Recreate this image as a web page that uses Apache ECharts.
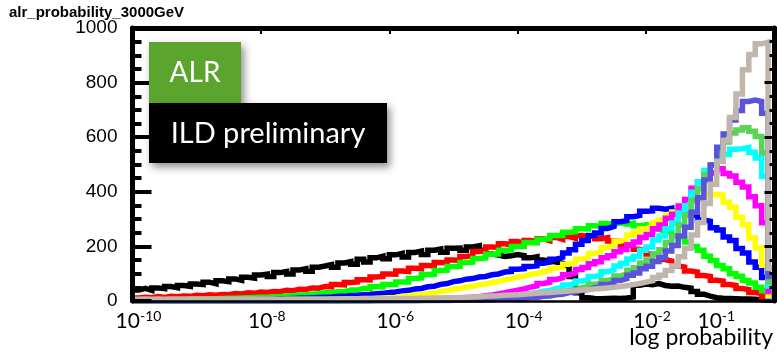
<!DOCTYPE html>
<html>
<head>
<meta charset="utf-8">
<script src="https://cdn.jsdelivr.net/npm/echarts@6/dist/echarts.min.js"></script>
<style>
  html, body { margin: 0; padding: 0; background: #ffffff; }
  #chart { width: 777px; height: 355px; }
</style>
</head>
<body>
<div id="chart"></div>
<script>
// Histogram of log10(ALR probability), 3000 GeV samples.
const histTitle = 'alr_probability_3000GeV';
const xAxisTitle = 'log probability';
const boxLabelTop = 'ALR';
const boxLabelBottom = 'ILD preliminary';

// Binning in log10(probability)
const logProbMin = -10;
const logProbMax = 0;
const binWidth = 0.1;

// Exponents that carry a tick label on the x axis
const labelledExponents = [-10, -8, -6, -4, -2, -1];

// Bin contents, one value per 0.1-decade bin from 1e-10 to 1
const countsBlack = [40,46,39,48,45,53,49,57,54,62,
  60,69,63,74,71,81,76,87,84,95,
  98,90,104,108,99,114,118,109,124,128,
  133,124,139,144,135,153,143,158,164,155,
  169,174,161,178,183,170,186,190,179,193,
  194,186,198,202,186,172,168,163,166,170,
  166,158,162,150,146,143,138,130,90,30,
  12,9,8,9,10,9,11,15,58,62,
  60,64,57,54,55,50,47,35,25,18,
  12,10,9,8,7,7,6,5,5,4];

const countsRed = [11,14,12,16,13,17,16,18,17,21,
  19,23,21,24,23,27,26,30,28,33,
  31,35,34,39,38,43,42,48,47,53,
  52,60,59,68,70,78,77,88,90,99,
  98,110,108,120,118,130,128,141,140,150,
  149,163,166,181,183,198,196,210,206,218,
  212,222,218,228,221,233,226,236,230,240,
  236,238,228,232,220,218,206,203,190,184,
  172,168,152,146,128,124,110,106,93,90,
  76,73,60,57,46,42,31,27,16,4];

const countsGreen = [2,3,3,4,4,5,5,6,6,7,
  7,8,8,9,10,10,11,12,13,14,
  14,16,16,19,19,22,22,26,26,30,
  30,35,34,40,40,46,45,53,52,60,
  60,70,70,82,84,97,98,112,113,126,
  127,141,142,156,158,171,172,186,187,200,
  200,214,213,226,228,240,240,252,254,265,
  264,276,272,284,280,287,281,285,276,279,
  268,262,255,250,238,232,216,200,186,164,
  148,130,118,100,91,75,66,50,38,6];

const countsBlue = [1,1,1,1,2,2,2,2,2,3,
  3,3,3,4,4,4,5,5,5,6,
  6,7,7,8,9,10,11,12,13,14,
  15,17,17,20,21,23,24,27,28,31,
  33,37,39,44,46,52,54,61,64,71,
  74,80,82,88,90,96,99,106,108,116,
  118,126,129,138,142,153,160,176,188,208,
  222,240,249,266,273,290,294,309,313,329,
  330,340,336,340,329,330,315,313,297,292,
  268,260,234,222,192,176,143,124,86,14];

const countsYellow = [0,0,1,0,1,1,1,1,1,1,
  1,1,2,1,2,2,2,2,2,3,
  3,3,3,3,4,4,4,5,5,5,
  6,6,7,7,8,9,9,10,11,12,
  13,17,17,22,23,28,30,36,38,44,
  46,52,54,60,62,68,71,78,81,88,
  91,98,101,108,112,120,125,135,142,153,
  160,174,181,196,203,219,226,242,250,265,
  272,288,297,315,326,345,355,372,379,391,
  390,388,362,343,307,279,231,194,131,18];

const countsMagenta = [0,0,0,0,0,0,0,0,0,0,
  0,0,0,0,1,0,1,1,1,1,
  1,1,1,1,1,2,2,2,2,2,
  2,3,3,3,3,4,4,4,5,5,
  5,6,6,7,7,8,8,9,10,10,
  11,12,14,16,19,22,26,30,35,40,
  44,51,55,64,69,79,85,96,103,115,
  123,136,144,158,166,180,189,205,216,233,
  244,265,278,303,318,348,372,413,437,466,
  472,484,467,458,435,418,382,349,287,35];

const countsCyan = [0,0,0,0,0,0,0,0,0,0,
  0,0,0,0,0,0,0,0,0,0,
  0,0,0,0,0,1,0,1,1,1,
  1,1,1,1,1,1,2,2,2,2,
  2,2,3,3,3,3,4,4,4,5,
  5,6,7,8,9,11,13,15,18,21,
  23,28,30,36,39,46,50,59,64,73,
  79,90,95,107,114,128,137,154,164,186,
  198,223,238,265,286,322,349,398,437,478,
  497,526,537,556,558,562,545,524,456,55];

const countsSpring = [0,0,0,0,0,0,0,0,0,0,
  0,0,0,0,0,0,0,0,0,0,
  0,0,0,0,0,0,0,0,1,0,
  1,0,1,1,1,1,1,1,1,2,
  2,2,2,2,2,3,3,3,3,4,
  4,5,5,6,7,8,9,10,12,13,
  14,18,19,24,25,31,33,39,42,49,
  53,61,65,75,80,92,99,113,122,139,
  150,172,188,215,238,278,315,368,412,463,
  498,548,582,615,626,635,622,603,542,70];

const countsViolet = [0,0,0,0,0,0,0,0,0,0,
  0,0,0,0,0,0,0,0,0,0,
  0,0,0,0,0,0,0,0,0,0,
  0,0,0,0,0,1,0,1,1,1,
  1,1,1,1,2,2,2,2,2,3,
  3,3,4,4,5,5,6,7,8,9,
  10,13,13,17,18,23,25,31,33,39,
  42,49,52,60,65,75,82,94,103,118,
  127,145,158,183,203,238,270,325,378,443,
  498,563,612,663,698,731,736,731,688,90];

const countsGrey = [6,7,6,7,6,7,7,6,7,7,
  7,6,7,7,7,6,7,7,7,7,
  7,7,6,7,7,7,7,7,7,7,
  7,7,7,8,7,8,8,8,8,8,
  8,9,9,9,10,10,11,11,12,12,
  13,14,15,16,17,18,19,21,22,23,
  25,27,28,30,31,33,35,37,38,40,
  42,44,46,48,50,53,56,60,64,69,
  74,86,94,112,128,162,193,242,288,357,
  428,512,588,672,758,847,903,942,948,120];

// Draw order: first listed is drawn underneath
const histograms = [
  { name: 'h1',  counts: countsBlack },
  { name: 'h2',  counts: countsRed },
  { name: 'h3',  counts: countsGreen },
  { name: 'h4',  counts: countsBlue },
  { name: 'h5',  counts: countsYellow },
  { name: 'h6',  counts: countsMagenta },
  { name: 'h7',  counts: countsCyan },
  { name: 'h8',  counts: countsSpring },
  { name: 'h9',  counts: countsViolet },
  { name: 'h11', counts: countsGrey }
];
const lineColors = ['#000000', '#ff0000', '#00ff00', '#0000ff', '#ffff00',
                    '#ff00ff', '#00ffff', '#59d454', '#5954d9', '#c0b6ac'];

// Step line through the bin lower edges, closed at the upper edge of the last bin
function toStepData(counts) {
  const pts = counts.map((c, i) => [logProbMin + i * binWidth, c]);
  pts.push([logProbMax, 0]);
  return pts;
}

const chart = echarts.init(document.getElementById('chart'), null, { renderer: 'canvas' });

const axisBlack = '#000000';
const labelFont = 'Lato, "Open Sans", sans-serif';

chart.setOption({
  animation: false,
  backgroundColor: '#ffffff',
  title: {
    text: histTitle,
    left: 4, top: 0,
    textStyle: { fontFamily: '"Liberation Sans", Arial, sans-serif', fontSize: 15, fontWeight: 'bold', color: '#000' }
  },
  grid: { left: 132.5, right: 2.5, top: 28, bottom: 54, containLabel: false, outerBoundsMode: 'none' },
  xAxis: [
    {
      type: 'value', position: 'bottom', min: logProbMin, max: logProbMax, interval: 1, z: 10,
      axisLine: { show: true, onZero: false, lineStyle: { color: axisBlack, width: 2.5 } },
      axisTick: { show: false },
      splitLine: { show: false },
      axisLabel: {
        margin: 8,
        padding: [0, 0, 0, 12],
        formatter: function (v) {
          const e = Math.round(v);
          if (Math.abs(v - e) > 1e-6 || labelledExponents.indexOf(e) < 0) return '';
          return '{b|10}{e|' + e + '}';
        },
        rich: {
          b: { fontFamily: labelFont, fontSize: 21, color: '#000', lineHeight: 24 },
          e: { fontFamily: labelFont, fontSize: 14, color: '#000', lineHeight: 14, verticalAlign: 'top' }
        }
      }
    },
    {
      type: 'value', position: 'top', min: logProbMin, max: logProbMax, interval: 2, z: 10,
      axisLine: { show: true, onZero: false, lineStyle: { color: axisBlack, width: 5 } },
      axisTick: { show: true, inside: true, length: 6, lineStyle: { color: axisBlack, width: 2 } },
      minorTick: { show: true, splitNumber: 4, length: 3, lineStyle: { color: axisBlack, width: 2 } },
      axisLabel: { show: false },
      splitLine: { show: false }
    }
  ],
  yAxis: [
    {
      type: 'value', position: 'left', min: 0, max: 1000, interval: 200, z: 10,
      axisLine: { show: true, onZero: false, lineStyle: { color: axisBlack, width: 5 } },
      axisTick: { show: true, inside: true, length: 19, lineStyle: { color: axisBlack, width: 4 } },
      minorTick: { show: true, splitNumber: 4, length: 9, lineStyle: { color: axisBlack, width: 4 } },
      axisLabel: {
        fontFamily: '"Liberation Sans", Arial, sans-serif', fontSize: 19, color: '#000', margin: 15,
        padding: [5, 0, 0, 0],
        formatter: function (v) { return String(v); }
      },
      splitLine: { show: false }
    },
    {
      type: 'value', position: 'right', min: 0, max: 1000, interval: 200, z: 10,
      axisLine: { show: true, onZero: false, lineStyle: { color: axisBlack, width: 5 } },
      axisTick: { show: true, inside: true, length: 10, lineStyle: { color: axisBlack, width: 3 } },
      minorTick: { show: true, splitNumber: 4, length: 5, lineStyle: { color: axisBlack, width: 3 } },
      axisLabel: { show: false },
      splitLine: { show: false }
    }
  ],
  series: histograms.map((h, i) => ({
    name: h.name,
    type: 'line',
    xAxisIndex: 0,
    yAxisIndex: 0,
    step: 'end',
    showSymbol: false,
    symbol: 'none',
    silent: true,
    z: 2,
    lineStyle: { color: lineColors[i], width: 5.5, join: 'miter', cap: 'butt' },
    data: toStepData(h.counts)
  })),
  graphic: [
    {
      type: 'rect', left: 149, top: 42, z: 20,
      shape: { width: 92, height: 61 },
      style: { fill: '#5ba52f', shadowBlur: 8, shadowOffsetX: 3, shadowOffsetY: 4, shadowColor: 'rgba(0,0,0,0.45)' }
    },
    {
      type: 'rect', left: 149, top: 103, z: 20,
      shape: { width: 238, height: 60 },
      style: { fill: '#000000', shadowBlur: 8, shadowOffsetX: 3, shadowOffsetY: 4, shadowColor: 'rgba(0,0,0,0.45)' }
    },
    {
      type: 'text', x: 195, y: 73, z: 21,
      style: { text: boxLabelTop, fill: '#ffffff', font: '28px ' + labelFont, textAlign: 'center', textVerticalAlign: 'middle' }
    },
    {
      type: 'text', x: 268, y: 134, z: 21,
      style: { text: boxLabelBottom, fill: '#ffffff', font: '29px ' + labelFont, textAlign: 'center', textVerticalAlign: 'middle' }
    },
    {
      // x-axis title, right-aligned under the axis end
      type: 'text', x: 773, y: 326, z: 21,
      style: { text: xAxisTitle, fill: '#000000', font: '23px ' + labelFont, textAlign: 'right', textVerticalAlign: 'top' }
    }
  ]
});
</script>
</body>
</html>
